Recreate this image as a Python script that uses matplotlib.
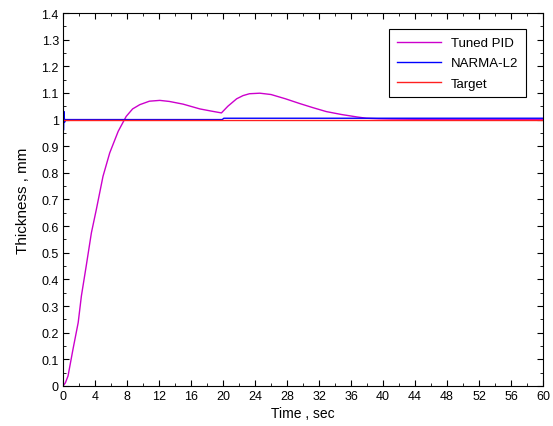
import numpy as np
import matplotlib.pyplot as plt
from matplotlib.ticker import MultipleLocator

plt.rcParams['font.family'] = ['Liberation Sans', 'DejaVu Sans']
plt.rcParams['font.size'] = 9

# Tuned PID response
pid_t = [0, 0.3, 0.63, 1.25, 1.9, 2.3, 2.9, 3.55, 4.17, 5.0, 5.84, 6.9, 7.9, 8.7, 9.6,
         10.8, 12.1, 13.3, 15.0, 17.1, 18.5, 19.8, 20.6, 21.7, 22.5, 23.3, 24.6, 26.0,
         27.8, 29.6, 31.2, 32.9, 34.8, 36.7, 37.9, 39.5, 41.0, 44.0, 50.0, 60.0]
pid_y = [0, 0.012, 0.0375, 0.138, 0.238, 0.338, 0.45, 0.575, 0.663, 0.787, 0.875, 0.956,
         1.012, 1.04, 1.056, 1.069, 1.072, 1.068, 1.058, 1.040, 1.032, 1.025, 1.05, 1.078,
         1.09, 1.097, 1.099, 1.094, 1.078, 1.06, 1.045, 1.030, 1.019, 1.010, 1.005, 1.003,
         1.002, 1.001, 1.0, 1.0]

# NARMA-L2 response
narma_t = [0, 0.02, 0.06, 0.12, 0.2, 0.3, 19.9, 20.1, 60]
narma_y = [0, 1.15, 0.96, 1.03, 0.99, 1.0, 1.0, 1.005, 1.005]

# Target
target_t = [0, 60]
target_y = [1.0, 1.0]

fig = plt.figure(figsize=(5.53, 4.27), dpi=100)
ax = fig.add_axes([0.1139, 0.0937, 0.8683, 0.8735])

ax.plot(pid_t, pid_y, color='#cc00cc', linewidth=1, label='Tuned PID')
ax.plot(narma_t, narma_y, color='#0000ff', linewidth=1, label='NARMA-L2')
ax.plot(target_t, target_y, color='#ff2020', linewidth=1, label='Target')

ax.set_xlim(0, 60)
ax.set_ylim(0, 1.4)
ax.xaxis.set_major_locator(MultipleLocator(4))
ax.xaxis.set_minor_locator(MultipleLocator(2))
ax.yaxis.set_major_locator(MultipleLocator(0.1))
ax.yaxis.set_minor_locator(MultipleLocator(0.05))
ax.set_yticklabels([('%g' % v) for v in ax.get_yticks()])
ax.tick_params(which='both', direction='in', top=True, right=True)
ax.tick_params(which='major', length=4)
ax.tick_params(which='minor', length=2)
ax.tick_params(axis='both', pad=3)

ax.set_xlabel('Time , sec', fontsize=10, labelpad=3)
ax.set_ylabel('Thickness , mm', fontsize=11, labelpad=8)

leg = ax.legend(loc='upper right', bbox_to_anchor=(0.965, 0.957), borderaxespad=0,
                fancybox=False, framealpha=1, edgecolor='black', fontsize=9.5,
                handlelength=3.3, labelspacing=0.6, borderpad=0.6)
leg.get_frame().set_linewidth(0.8)

plt.savefig('out.png', dpi=100)
